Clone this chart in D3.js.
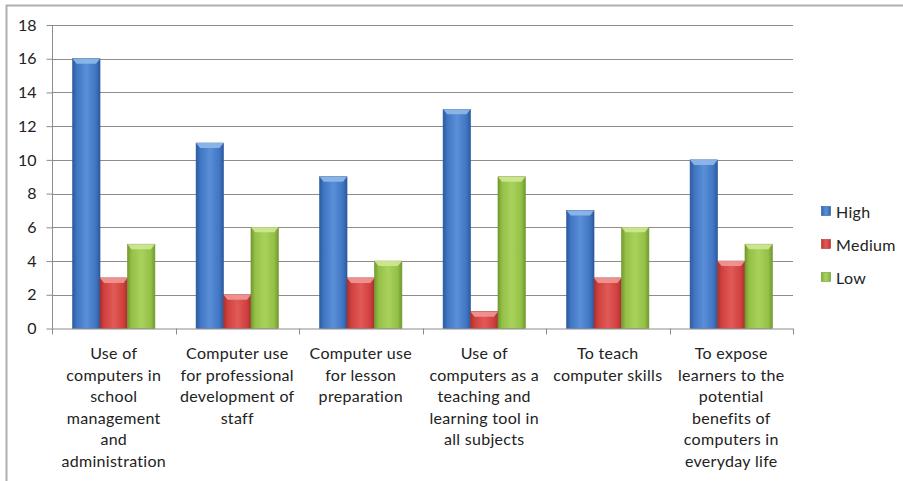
<!DOCTYPE html>
<html><head><meta charset="utf-8">
<script src="https://cdn.jsdelivr.net/npm/d3@7"></script>
<style>body{margin:0;background:#fff;}svg{display:block;}text{font-family:Lato,"Open Sans",sans-serif;}</style>
</head><body>
<svg id="c" width="903" height="481"></svg>
<script>
const categories = [
  ["Use of","computers in","school","management","and","administration"],
  ["Computer use","for professional","development of","staff"],
  ["Computer use","for lesson","preparation"],
  ["Use of","computers as a","teaching and","learning tool in","all subjects"],
  ["To teach","computer skills"],
  ["To expose","learners to the","potential","benefits of","computers in","everyday life"]
];
const seriesNames = ["High","Medium","Low"];
const high = [16,11,9,13,7,10];
const medium = [3,2,3,1,3,4];
const low = [5,6,4,9,6,5];
const yTicks = [0,2,4,6,8,10,12,14,16,18];

const series = [high, medium, low];
const colors = [
  {base:"#3f75c2", dark:"#2c5a9c", light:"#5a8fd8", top:"#8fb9ea"},
  {base:"#d0403d", dark:"#a53130", light:"#e05a57", top:"#f09896"},
  {base:"#93c046", dark:"#73992f", light:"#a9d25d", top:"#cfe895"}
];

const svg = d3.select("#c");
const defs = svg.append("defs");
colors.forEach((c,i)=>{
  const g = defs.append("linearGradient").attr("id","g"+i).attr("x1","0").attr("x2","1").attr("y1","0").attr("y2","0");
  g.append("stop").attr("offset","0").attr("stop-color",c.dark);
  g.append("stop").attr("offset","0.15").attr("stop-color",c.base);
  g.append("stop").attr("offset","0.5").attr("stop-color",c.light);
  g.append("stop").attr("offset","0.85").attr("stop-color",c.base);
  g.append("stop").attr("offset","1").attr("stop-color",c.dark);
});

// outer border
svg.append("rect").attr("x",6.5).attr("y",5.5).attr("width",905).attr("height",490)
  .attr("fill","none").attr("stroke","#b0b0b0").attr("stroke-width",2);

const pLeft = 52, pRight = 793, pTop = 25, pBottom = 328.5;
const x = d3.scaleBand().domain(d3.range(categories.length)).range([pLeft,pRight]).paddingInner(0).paddingOuter(0);
const y = d3.scaleLinear().domain([0,18]).range([pBottom,pTop]);
const groupW = x.bandwidth()/(3+1.5)*3;
const x1 = d3.scaleBand().domain(d3.range(3)).range([0,groupW]);

// gridlines
svg.append("g").selectAll("line").data(yTicks.filter(d=>d>0)).join("line")
  .attr("x1",pLeft).attr("x2",pRight).attr("y1",d=>Math.round(y(d))+0.5).attr("y2",d=>Math.round(y(d))+0.5)
  .attr("stroke","#8c8c8c").attr("stroke-width",1);

// y axis
const yAxis = d3.axisLeft(y).tickValues(yTicks).tickSize(6).tickPadding(10).tickFormat(d3.format("d"));
const ya = svg.append("g").attr("transform",`translate(${pLeft+0.5},0)`).call(yAxis);
ya.select(".domain").attr("stroke","#8c8c8c").attr("d",`M0,${pTop}V${pBottom}`);
ya.selectAll(".tick line").attr("stroke","#8c8c8c");
ya.selectAll(".tick text").attr("font-size",16).attr("fill","#222").style("font-family","Lato,sans-serif");

// bars
series.forEach((vals,si)=>{
  const g = svg.append("g");
  vals.forEach((v,ci)=>{
    const bx = x(ci) + (x.bandwidth()-groupW)/2 + x1(si);
    const bw = x1.bandwidth();
    const by = y(v), bh = pBottom - y(v);
    g.append("rect").attr("x",bx).attr("y",by).attr("width",bw).attr("height",bh)
      .attr("fill",`url(#g${si})`).attr("stroke",colors[si].dark).attr("stroke-width",0.6);
    const bev = Math.min(5, bh/2);
    g.append("path").attr("d",`M${bx},${by}L${bx+bw},${by}L${bx+bw-4},${by+bev}L${bx+4},${by+bev}Z`)
      .attr("fill",colors[si].top).attr("opacity",0.9);
  });
});

// x axis
svg.append("line").attr("x1",pLeft).attr("x2",pRight).attr("y1",pBottom+0.5).attr("y2",pBottom+0.5).attr("stroke","#8c8c8c");
const xTickPos = d3.range(categories.length+1).map(i=>pLeft + i*x.bandwidth());
svg.append("g").selectAll("line").data(xTickPos).join("line")
  .attr("x1",d=>Math.round(d)+0.5).attr("x2",d=>Math.round(d)+0.5).attr("y1",pBottom).attr("y2",pBottom+6)
  .attr("stroke","#8c8c8c");

// category labels
const lab = svg.append("g");
categories.forEach((lines,ci)=>{
  const t = lab.append("text").attr("text-anchor","middle").attr("font-size",16).attr("letter-spacing",0.3).attr("fill","#222");
  lines.forEach((ln,li)=>{
    t.append("tspan").attr("x",x(ci)+x.bandwidth()/2).attr("y",359+li*21.6).text(ln);
  });
});

// legend
const leg = svg.append("g");
seriesNames.forEach((n,i)=>{
  const yy = 212 + i*33;
  leg.append("rect").attr("x",821.5).attr("y",yy-5.5).attr("width",9).attr("height",9)
    .attr("fill",`url(#g${i})`).attr("stroke",colors[i].dark).attr("stroke-width",0.6);
  leg.append("text").attr("x",836).attr("y",yy+5.5).attr("font-size",16).attr("letter-spacing",0.3).attr("fill","#222").text(n);
});
</script>
</body></html>
